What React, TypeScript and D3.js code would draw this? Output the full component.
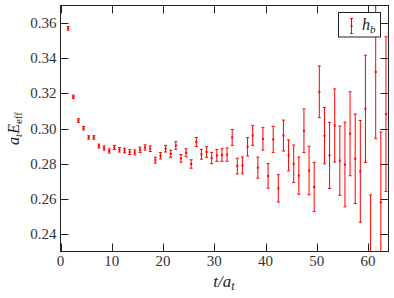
import React from "react";
import * as d3 from "d3";

const tValues = [
  1.5, 2.5, 3.5, 4.5, 5.5, 6.5, 7.5, 8.5, 9.5, 10.5, 11.5, 12.5, 13.5, 14.5, 15.5, 16.5, 17.5, 18.5, 19.5, 20.5,
  21.5, 22.5, 23.5, 24.5, 25.5, 26.5, 27.5, 28.5, 29.5, 30.5, 31.5, 32.5, 33.5, 34.5, 35.5, 36.5, 37.5, 38.5, 39.5, 40.5,
  41.5, 42.5, 43.5, 44.5, 45.5, 46.5, 47.5, 48.5, 49.5, 50.5, 51.5, 52.5, 53.5, 54.5, 55.5, 56.5, 57.5, 58.5, 59.5, 60.5,
  61.5, 62.5, 63.5,
];
const eEff = [
  0.357, 0.318, 0.3045, 0.3002, 0.2949, 0.2949, 0.29, 0.2889, 0.2872, 0.2892, 0.2879, 0.2875, 0.2866, 0.2864, 0.2879, 0.2892, 0.2885, 0.282, 0.2845, 0.2885,
  0.2856, 0.2903, 0.283, 0.2862, 0.2798, 0.2923, 0.2853, 0.2866, 0.2832, 0.2847, 0.2849, 0.2851, 0.2949, 0.2786, 0.279, 0.2896, 0.296, 0.2777, 0.2941, 0.273,
  0.2938, 0.2659, 0.296, 0.2847, 0.2799, 0.2732, 0.2987, 0.2761, 0.2667, 0.3209, 0.2959, 0.2847, 0.3017, 0.2817, 0.2795, 0.297, 0.2828, 0.2756, 0.3112, 0.2297,
  0.3322, 0.258, 0.3082,
];
const eErr = [
  0.001, 0.001, 0.001, 0.001, 0.001, 0.001, 0.0011, 0.0012, 0.0012, 0.0012, 0.0013, 0.0013, 0.0014, 0.0014, 0.0015, 0.0015, 0.0016, 0.0017, 0.0018, 0.0019,
  0.002, 0.0022, 0.0022, 0.0023, 0.0024, 0.0026, 0.0028, 0.003, 0.0032, 0.0034, 0.0036, 0.0038, 0.0045, 0.0045, 0.0048, 0.0052, 0.0056, 0.006, 0.0064, 0.007,
  0.0074, 0.0078, 0.0088, 0.0088, 0.0107, 0.0106, 0.0124, 0.0138, 0.014, 0.0147, 0.016, 0.0188, 0.0208, 0.0197, 0.0241, 0.0239, 0.0255, 0.029, 0.0305, 0.0325,
  0.038, 0.04, 0.044,
];
const xTicks = [0, 10, 20, 30, 40, 50, 60];
const yTicks = [0.24, 0.26, 0.28, 0.3, 0.32, 0.34, 0.36];
const legendLabel = "h";
const legendSub = "b";

const W = 394;
const H = 298;
const left = 60.5, right = 388.5, top = 5.5, bottom = 251.5;
const FONT = "Liberation Serif";
const RED = "#ff0000";
const AX = "#222";

export default function App() {
  const x = d3.scaleLinear().domain([0, 64]).range([left, right]);
  const y = d3.scaleLinear().domain([0.23, 0.37]).range([bottom, top]);
  const data = tValues.map((t, i) => ({ t, v: eEff[i], e: eErr[i] }));
  const tl = 8;
  const txt = { fontFamily: FONT } as React.CSSProperties;
  return (
    <svg width={W} height={H} style={{ position: "absolute", left: 0, top: 0 }}>
      <defs>
        <clipPath id="plot">
          <rect x={left} y={top} width={right - left} height={bottom - top} />
        </clipPath>
      </defs>
      <rect x={0} y={0} width={W} height={H} fill="white" />
      <g clipPath="url(#plot)">
        {data.map((d, i) => {
          const cx = x(d.t);
          const y1 = y(d.v + d.e);
          const y0 = y(d.v - d.e);
          return (
            <g key={i} stroke={RED} strokeWidth={1} fill="none">
              <line x1={cx} x2={cx} y1={y1} y2={y0} />
              <line x1={cx - 1.5} x2={cx + 1.5} y1={y1} y2={y1} />
              <line x1={cx - 1.5} x2={cx + 1.5} y1={y0} y2={y0} />
              <rect x={cx - 1} y={y(d.v) - 1} width={2} height={2} fill={RED} stroke="none" />
            </g>
          );
        })}
      </g>
      <rect x={left} y={top} width={right - left} height={bottom - top} fill="none" stroke={AX} strokeWidth={1} />
      {xTicks.map((t) => (
        <g key={"x" + t}>
          <line x1={Math.round(x(t)) + 0.5} x2={Math.round(x(t)) + 0.5} y1={bottom} y2={bottom - tl} stroke={AX} />
          <line x1={Math.round(x(t)) + 0.5} x2={Math.round(x(t)) + 0.5} y1={top} y2={top + tl} stroke={AX} />
          <text x={x(t)} y={266} textAnchor="middle" style={txt} fontSize={15} fill="#333">
            {t}
          </text>
        </g>
      ))}
      {yTicks.map((t) => (
        <g key={"y" + t}>
          <line x1={left} x2={left + tl} y1={Math.round(y(t)) + 0.5} y2={Math.round(y(t)) + 0.5} stroke={AX} />
          <line x1={right} x2={right - tl} y1={Math.round(y(t)) + 0.5} y2={Math.round(y(t)) + 0.5} stroke={AX} />
          <text x={56.5} y={y(t) + 5} textAnchor="end" style={txt} fontSize={15} fill="#333">
            {t.toFixed(2)}
          </text>
        </g>
      ))}
      <rect x={338.5} y={12.5} width={42} height={24.5} fill="white" stroke={AX} strokeWidth={1} />
      <g stroke={RED} strokeWidth={1}>
        <line x1={351.5} x2={351.5} y1={18.5} y2={33.5} />
        <line x1={350} x2={353} y1={18.5} y2={18.5} />
        <line x1={350} x2={353} y1={33.5} y2={33.5} />
        <rect x={350.5} y={25} width={2} height={2} fill={RED} stroke="none" />
      </g>
      <text x={362} y={30} style={txt} fontSize={16} fontStyle="italic" fill="#222">
        {legendLabel}
        <tspan fontSize={11} dy={3}>{legendSub}</tspan>
      </text>
      <text x={224} y={287} textAnchor="middle" style={txt} fontSize={17} fontStyle="italic" fill="#222">
        t/a
        <tspan fontSize={12} dy={3}>t</tspan>
      </text>
      <text
        transform={`translate(19,${(top + bottom) / 2}) rotate(-90)`}
        textAnchor="middle"
        style={txt}
        fontSize={16}
        fontStyle="italic"
        fill="#222"
      >
        a
        <tspan fontSize={11} dy={3}>t</tspan>
        <tspan dy={-3}>E</tspan>
        <tspan fontSize={11} dy={3} fontStyle="normal">eff</tspan>
      </text>
    </svg>
  );
}
